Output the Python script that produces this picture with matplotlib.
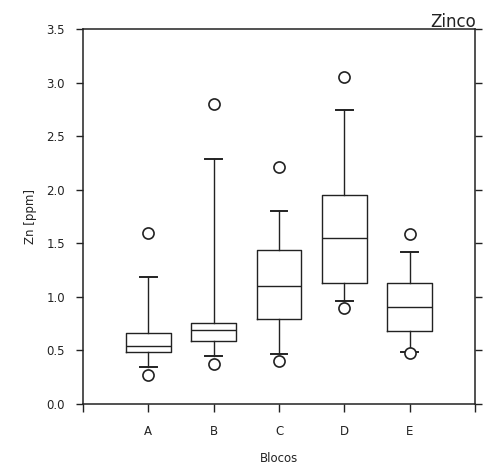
import matplotlib
matplotlib.use("Agg")
import matplotlib.pyplot as plt

blocks = ["A", "B", "C", "D", "E"]
whis_lo = [0.35, 0.45, 0.47, 0.965, 0.49]
q1 = [0.49, 0.585, 0.79, 1.13, 0.68]
median = [0.54, 0.69, 1.10, 1.547, 0.903]
q3 = [0.66, 0.76, 1.44, 1.955, 1.127]
whis_hi = [1.19, 2.29, 1.80, 2.74, 1.415]
outliers = [[0.27, 1.60], [0.37, 2.80], [0.40, 2.21], [0.90, 3.05], [0.48, 1.59]]

stats = []
for i, b in enumerate(blocks):
    stats.append(dict(label=b, whislo=whis_lo[i], q1=q1[i], med=median[i],
                      q3=q3[i], whishi=whis_hi[i], fliers=outliers[i]))

plt.rcParams['font.family'] = ['DejaVu Sans']
fig = plt.figure(figsize=(4.83, 4.72), dpi=100)
ax = fig.add_axes([83/483, 68/472, 392/483, 375/472])

lw = 1.0
ax.bxp(stats, positions=range(1, 6), widths=0.68, showfliers=True,
       boxprops=dict(color='#222222', linewidth=lw),
       medianprops=dict(color='#222222', linewidth=lw),
       whiskerprops=dict(color='#222222', linewidth=lw),
       capprops=dict(color='#222222', linewidth=1.4),
       flierprops=dict(marker='o', markerfacecolor='white', markeredgecolor='#222222',
                       markersize=8, markeredgewidth=1.2, linestyle='none'),
       capwidths=0.26)

ax.set_xlim(0, 6)
ax.set_ylim(0, 3.5)
ax.set_xticks(range(0, 7))
ax.set_xticklabels([""] + blocks + [""])
ax.set_yticks([0, 0.5, 1.0, 1.5, 2.0, 2.5, 3.0, 3.5])
ax.set_yticklabels(["0.0", "0.5", "1.0", "1.5", "2.0", "2.5", "3.0", "3.5"])
ax.tick_params(axis='y', direction='out', length=5, width=1, pad=8, labelsize=8.5,
               right=True, colors='#222222')
ax.tick_params(axis='x', direction='out', length=6, width=1, pad=9, labelsize=8.5,
               colors='#222222')
for s in ax.spines.values():
    s.set_linewidth(1.1)
    s.set_color('#222222')

ax.set_xlabel("Blocos", fontsize=8.5, labelpad=10, color='#222222')
ax.set_ylabel("Zn [ppm]", fontsize=8.5, labelpad=7, color='#222222')
fig.text(476/483, 1 - 27/472, "Zinco", ha='right', va='baseline', fontsize=12,
         color='#222222')

fig.savefig("out.png", dpi=100)
